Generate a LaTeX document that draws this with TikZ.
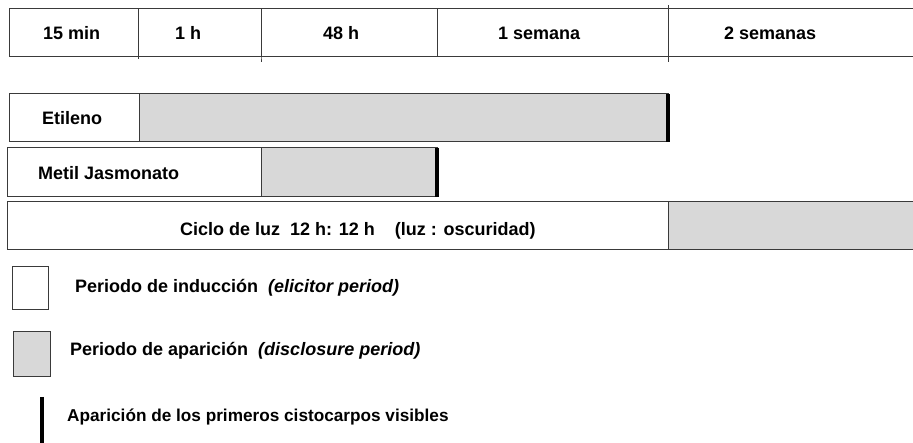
\documentclass[tikz,border=0pt]{standalone}
\usepackage{fontspec}
\setmainfont{Liberation Sans}
\definecolor{boxline}{HTML}{3A3A3A}
\definecolor{fillgrey}{HTML}{D8D8D8}
\tikzset{
  cell/.style={draw=boxline, line width=1pt, anchor=north west, inner sep=0pt, outer sep=0pt},
  whitecell/.style={cell, fill=white},
  greycell/.style={cell, fill=fillgrey},
  lbl/.style={anchor=base west, inner sep=0pt, font=\fontsize{18}{20}\selectfont\bfseries},
  endbar/.style={line width=3.5pt, black},
}
\begin{document}
\begin{tikzpicture}[x=1pt, y=-1pt]
\useasboundingbox (0,0) rectangle (913,443);
% top timeline
\node[whitecell, minimum width=129pt, minimum height=48pt] (t1) at (9,9) {};
\node[whitecell, minimum width=123pt, minimum height=48pt] (t2) at (138,9) {};
\node[whitecell, minimum width=176pt, minimum height=48pt] (t3) at (261,9) {};
\node[whitecell, minimum width=231pt, minimum height=48pt] (t4) at (437,9) {};
\node[whitecell, minimum width=250pt, minimum height=48pt] (t5) at (668,9) {};
\draw[boxline, line width=1pt] (t2.north east) -- (t2.south east) -- ++(0,5);
\draw[boxline, line width=1pt] (t4.north east) -- ++(0,-4);
\draw[boxline, line width=1pt] (t4.south east) -- ++(0,5);
\draw[boxline, line width=1pt] (t1.south east) -- ++(0,2);
\node[lbl] (l1) at (43,40) {15 min};
\node[lbl] (l2) at (175,40) {1 h};
\node[lbl] (l3) at (323,40) {48 h};
\node[lbl] (l4) at (498,40) {1 semana};
\node[lbl] (l5) at (724,40) {2 semanas};
% Etileno
\node[whitecell, minimum width=130pt, minimum height=48pt] (e1) at (9,94) {};
\node[greycell, minimum width=529pt, minimum height=48pt] (e2) at (139,94) {};
\draw[endbar] (e2.north east) -- (e2.south east);
\node[lbl] (et) at (42,125) {Etileno};
% Metil Jasmonato
\node[whitecell, minimum width=254pt, minimum height=49pt] (m1) at (7,148) {};
\node[greycell, minimum width=176pt, minimum height=49pt] (m2) at (261,148) {};
\draw[endbar] (m2.north east) -- (m2.south east);
\node[lbl] (mt) at (38,180) {Metil Jasmonato};
% Ciclo de luz
\node[whitecell, minimum width=661pt, minimum height=48pt] (c1) at (7,202) {};
\node[greycell, minimum width=250pt, minimum height=48pt] (c2) at (668,202) {};
\node[lbl] (ct) at (180,236) {Ciclo de luz\ \ 12 h: 12 h\ \ \ \ (luz : oscuridad)};
% legend
\node[whitecell, minimum width=36pt, minimum height=43pt] (k1) at (12,267) {};
\node[lbl] (kt1) at (75,293) {Periodo de inducción\ \ \textit{(elicitor period)}};
\node[greycell, minimum width=37pt, minimum height=45pt] (k2) at (13,332) {};
\node[lbl] (kt2) at (70,356) {Periodo de aparición\ \ \textit{(disclosure period)}};
\coordinate (k3a) at (42,397);
\coordinate (k3b) at (42,443);
\draw[endbar, line width=4pt] (k3a) -- (k3b);
\node[lbl, font=\fontsize{17.2}{20}\selectfont\bfseries] (kt3) at (67,421) {Aparición de los primeros cistocarpos visibles};
\end{tikzpicture}
\end{document}
